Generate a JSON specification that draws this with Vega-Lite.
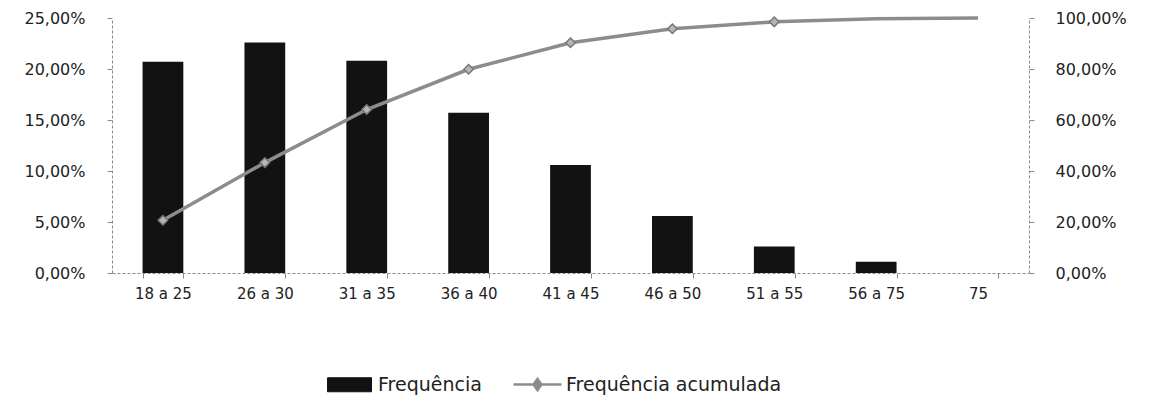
{
  "$schema": "https://vega.github.io/schema/vega-lite/v6.json",
  "width": 917,
  "height": 255,
  "autosize": {"type": "none"},
  "padding": {"left": 112, "top": 18, "right": 124, "bottom": 139},
  "background": "white",
  "config": {
    "locale": {"number": {"decimal": ",", "thousands": ".", "grouping": [3], "currency": ["R$", ""]}},
    "view": {"stroke": null},
    "font": "DejaVu Sans",
    "axis": {
      "grid": false,
      "domainColor": "#8a8a8a",
      "domainDash": [3, 2],
      "tickColor": "#8a8a8a",
      "tickSize": 5,
      "labelColor": "#222222",
      "labelFont": "DejaVu Sans",
      "title": null
    }
  },
  "data": {
    "values": [
      {"faixa": "18 a 25", "freq": 0.207, "acum": 0.207},
      {"faixa": "26 a 30", "freq": 0.226, "acum": 0.433},
      {"faixa": "31 a 35", "freq": 0.208, "acum": 0.641},
      {"faixa": "36 a 40", "freq": 0.157, "acum": 0.799},
      {"faixa": "41 a 45", "freq": 0.106, "acum": 0.903},
      {"faixa": "46 a 50", "freq": 0.056, "acum": 0.958},
      {"faixa": "51 a 55", "freq": 0.026, "acum": 0.985},
      {"faixa": "56 a 75", "freq": 0.011, "acum": 0.997},
      {"faixa": "75", "freq": 0.0, "acum": 1.0}
    ]
  },
  "encoding": {
    "x": {
      "field": "faixa",
      "type": "nominal",
      "sort": null,
      "scale": {"paddingInner": 0.6, "paddingOuter": 0.3},
      "axis": {"labelAngle": 0, "labelFontSize": 15, "labelPadding": 8, "tickBand": "extent", "title": null}
    }
  },
  "layer": [
    {
      "mark": {"type": "bar", "color": "#121212"},
      "encoding": {
        "y": {
          "field": "freq",
          "type": "quantitative",
          "scale": {"domain": [0, 0.25], "nice": false},
          "axis": {"values": [0, 0.05, 0.1, 0.15, 0.2, 0.25], "format": ".2%", "labelFontSize": 16, "labelPadding": 22, "title": null}
        },
        "color": {
          "datum": "Frequência",
          "type": "nominal",
          "scale": {"domain": ["Frequência", "Frequência acumulada"], "range": ["#121212", "#8c8c8c"]},
          "legend": {
            "title": null,
            "orient": "none",
            "direction": "horizontal",
            "legendX": 228,
            "legendY": 357,
            "labelFontSize": 19,
            "labelColor": "#222222",
            "labelFont": "DejaVu Sans",
            "labelLimit": 400,
            "columnPadding": 26,
            "labelOffset": 19,
            "symbolSize": 2500,
            "encode": {
              "symbols": {
                "update": {
                  "shape": {"signal": "datum.value === 'Frequência' ? 'M-0.88,-0.28H0.88V0.28H-0.88Z' : 'M-0.96,0H0.96M0,-0.22L0.16,0L0,0.22L-0.16,0Z'"},
                  "fill": {"signal": "datum.value === 'Frequência' ? '#121212' : '#b0b0b0'"},
                  "stroke": {"signal": "datum.value === 'Frequência' ? '#121212' : '#7a7a7a'"},
                  "strokeWidth": {"signal": "datum.value === 'Frequência' ? 1 : 2.5"},
                  "size": {"value": 2500},
                  "opacity": {"value": 1}
                }
              }
            }
          }
        }
      }
    },
    {
      "layer": [
        {
          "mark": {"type": "line", "strokeWidth": 3.5},
          "encoding": {
            "y": {
              "field": "acum",
              "type": "quantitative",
              "scale": {"domain": [0, 1], "nice": false},
              "axis": {"orient": "right", "values": [0, 0.2, 0.4, 0.6, 0.8, 1], "format": ".2%", "labelFontSize": 16, "labelPadding": 21, "title": null}
            },
            "color": {"datum": "Frequência acumulada", "type": "nominal"}
          }
        },
        {
          "transform": [{"filter": "datum.acum < 0.995"}],
          "mark": {"type": "point", "shape": "diamond", "size": 90, "filled": true, "fill": "#b5b5b5", "stroke": "#777777", "strokeWidth": 1.5, "opacity": 1},
          "encoding": {
            "y": {
              "field": "acum",
              "type": "quantitative",
              "scale": {"domain": [0, 1], "nice": false},
              "axis": {"orient": "right", "values": [0, 0.2, 0.4, 0.6, 0.8, 1], "format": ".2%", "labelFontSize": 16, "labelPadding": 21, "title": null}
            }
          }
        }
      ]
    }
  ],
  "resolve": {"scale": {"y": "independent"}}
}
